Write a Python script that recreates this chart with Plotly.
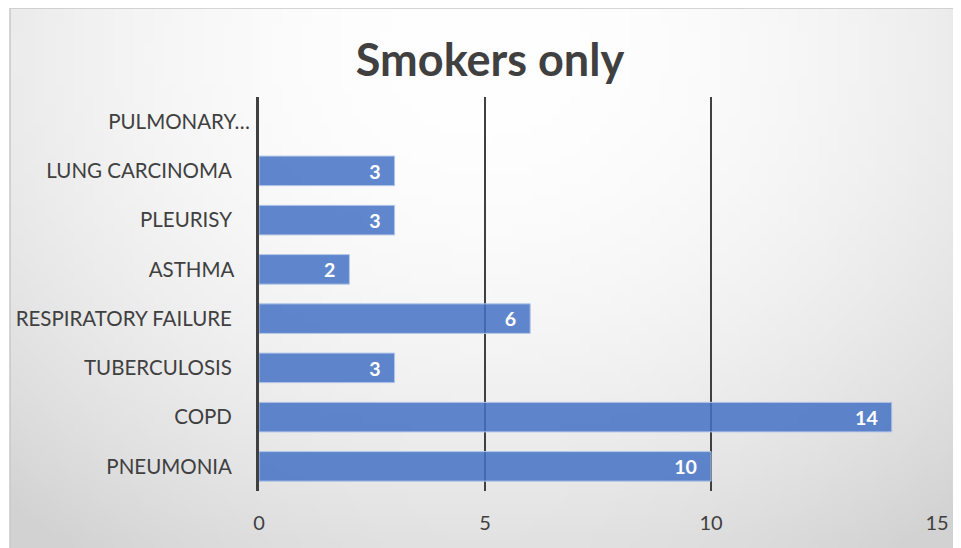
import base64
import struct
import zlib

import plotly.graph_objects as go

# Data (top to bottom as shown in the chart)
categories = [
    "PULMONARY…",
    "LUNG CARCINOMA",
    "PLEURISY",
    "ASTHMA",
    "RESPIRATORY FAILURE",
    "TUBERCULOSIS",
    "COPD",
    "PNEUMONIA",
]
tick_labels = [
    "PULMONARY…",
    "LUNG CARCINOMA\u2003\u200a\u200a",
    "PLEURISY\u2003\u200a\u200a",
    "ASTHMA\u2002\u00a0",
    "RESPIRATORY FAILURE\u2003\u200a\u200a",
    "TUBERCULOSIS\u2003\u200a\u200a",
    "COPD\u2003\u200a\u200a",
    "PNEUMONIA\u2003\u200a\u200a",
]
smokers = [None, 3, 3, 2, 6, 3, 14, 10]
x_ticks = [0, 5, 10, 15]

# page body adds an 8px margin, so the figure is 8px smaller than the window
W, H = 953, 540
ML, MR, MT, MB = 251, 24, 89, 57
FONT = "Lato, Carlito, Calibri, sans-serif"


def _gradient_png(w=96, h=54):
    """Small radial-ish grey gradient, stretched over the chart area."""
    rows = b""
    for j in range(h):
        rows += b"\x00"
        dy = (j / (h - 1) * 540 - 40) / 508
        for i in range(w):
            dx = (i / (w - 1) * 951 - 475) / 476
            v = 255 - 19 * dx * dx - 30 * dy * dy
            v = int(max(210, min(255, v)))
            rows += bytes((v, v, v))

    def chunk(tag, data):
        c = struct.pack(">I", len(data)) + tag + data
        return c + struct.pack(">I", zlib.crc32(tag + data) & 0xFFFFFFFF)

    png = b"\x89PNG\r\n\x1a\n"
    png += chunk(b"IHDR", struct.pack(">IIBBBBB", w, h, 8, 2, 0, 0, 0))
    png += chunk(b"IDAT", zlib.compress(rows, 9))
    png += chunk(b"IEND", b"")
    return "data:image/png;base64," + base64.b64encode(png).decode()


pw, ph = W - ML - MR, H - MT - MB
# chart-area box (px) -> paper coordinates
bx0, by0, bx1, by1 = 2, 0, W, H
px0, px1 = (bx0 - ML) / pw, (bx1 - ML) / pw
py1, py0 = (H - MB - by0) / ph, (H - MB - by1) / ph

fig = go.Figure(
    go.Bar(
        y=categories,
        x=smokers,
        orientation="h",
        width=0.6,
        marker=dict(color="rgba(68,114,196,0.85)", line=dict(color="#b4c7e7", width=1)),
        texttemplate="%{x}\u2002\u200a",
        textposition="inside",
        insidetextanchor="end",
        textangle=0,
        textfont=dict(family=FONT, size=20, color="white", weight="bold"),
        cliponaxis=False,
    )
)

fig.update_layout(
    width=W,
    height=H,
    margin=dict(l=ML, r=MR, t=MT, b=MB, autoexpand=False),
    paper_bgcolor="white",
    plot_bgcolor="rgba(0,0,0,0)",
    showlegend=False,
    title=dict(
        text="<b>Smokers only</b>",
        x=482 / W,
        xanchor="center",
        y=1 - 52 / H,
        yanchor="middle",
        font=dict(family=FONT, size=45, color="#404040"),
    ),
    images=[
        dict(
            source=_gradient_png(),
            xref="paper",
            yref="paper",
            x=px0,
            y=py1,
            sizex=px1 - px0,
            sizey=py1 - py0,
            sizing="stretch",
            xanchor="left",
            yanchor="top",
            layer="below",
        )
    ],
    shapes=[
        dict(
            type="rect",
            xref="paper",
            yref="paper",
            x0=px0,
            x1=px1 + 0.01,
            y0=py0 - 0.01,
            y1=py1,
            line=dict(color="#c8c8c8", width=1.5),
            layer="below",
        )
    ],
)

fig.update_xaxes(
    range=[0, 15],
    tickvals=x_ticks,
    showgrid=True,
    gridcolor="#404040",
    gridwidth=1.5,
    zeroline=False,
    ticks="",
    automargin=False,
    ticklabelstandoff=18,
    tickfont=dict(family=FONT, size=20, color="#404040"),
)
fig.update_yaxes(
    categoryorder="array",
    categoryarray=categories,
    tickvals=categories,
    ticktext=tick_labels,
    autorange="reversed",
    showline=True,
    linecolor="#404040",
    linewidth=3,
    showgrid=False,
    ticks="",
    automargin=False,
    ticklabelstandoff=2,
    tickfont=dict(family=FONT, size=20.5, color="#404040"),
)

fig.write_html("out.html")
